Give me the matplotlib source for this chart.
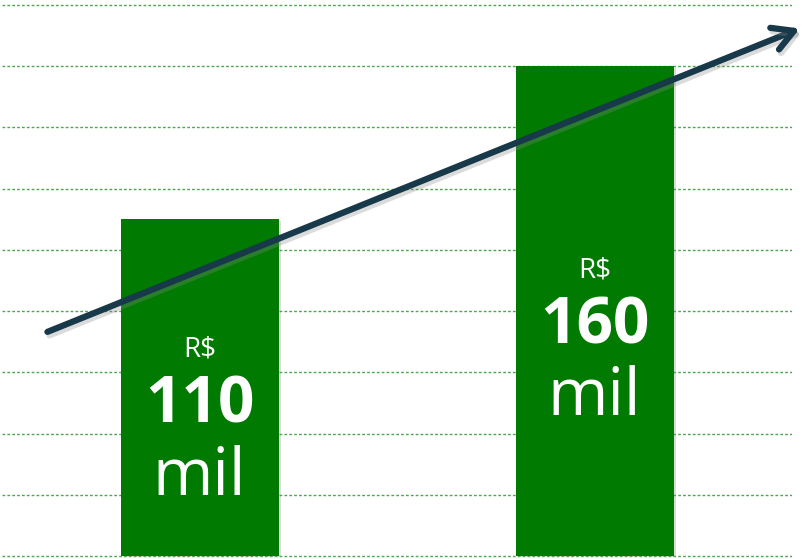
import numpy as np
import matplotlib
matplotlib.use("Agg")
import matplotlib.pyplot as plt
import matplotlib.patheffects as pe

# dados
categorias = ["Antes", "Depois"]
valores = [110, 160]
rotulos_valor = ["110", "160"]
rotulo_moeda = "R$"
rotulo_unidade = "mil"
base_rotulo = [20, 46]          # linha de base do texto "mil" (escala do eixo)
grade = np.arange(0, 181, 20)
seta_inicio = (-0.385, 73.2)
seta_fim = (1.52, 172.3)

plt.rcParams['font.family'] = ['Open Sans', 'DejaVu Sans']

fig = plt.figure(figsize=(8.02, 5.59), dpi=100)
ax = fig.add_axes([2 / 802, 0, 790 / 802, 1])

x = np.arange(len(categorias))
for g in grade:
    ax.axhline(g, color='#4ea64e', lw=1.0, ls=(0, (2, 1.5)), zorder=0)

barras = ax.bar(x, valores, width=0.4, color='#007a00', zorder=2)
for b in barras:
    b.set_path_effects([pe.SimplePatchShadow(offset=(2, -1), shadow_rgbFace='#888888', alpha=0.3),
                        pe.Normal()])

for i in range(len(x)):
    y0 = base_rotulo[i]
    ax.text(x[i], y0, rotulo_unidade, color='white', fontsize=47,
            ha='center', va='baseline', zorder=3)
    ax.text(x[i], y0 + 23.5, rotulos_valor[i], color='white', fontsize=46,
            fontweight='bold', ha='center', va='baseline', zorder=3)
    ax.text(x[i], y0 + 45, rotulo_moeda, color='white', fontsize=20,
            ha='center', va='baseline', zorder=3)

ax.annotate('', xy=seta_fim, xytext=seta_inicio, annotation_clip=False,
            arrowprops=dict(arrowstyle='->,head_length=0.75,head_width=0.42',
                            mutation_scale=20, lw=4.5, color='#17394a',
                            shrinkA=0, shrinkB=0,
                            path_effects=[pe.SimpleLineShadow(offset=(1.5, -2.5), shadow_color='#888888', alpha=0.3),
                                          pe.Normal()]),
            zorder=4)

ax.set_xlim(-0.5, 1.5)
ax.set_ylim(-0.98, 181.6)
ax.axis('off')

fig.savefig('out.png', dpi=100)
